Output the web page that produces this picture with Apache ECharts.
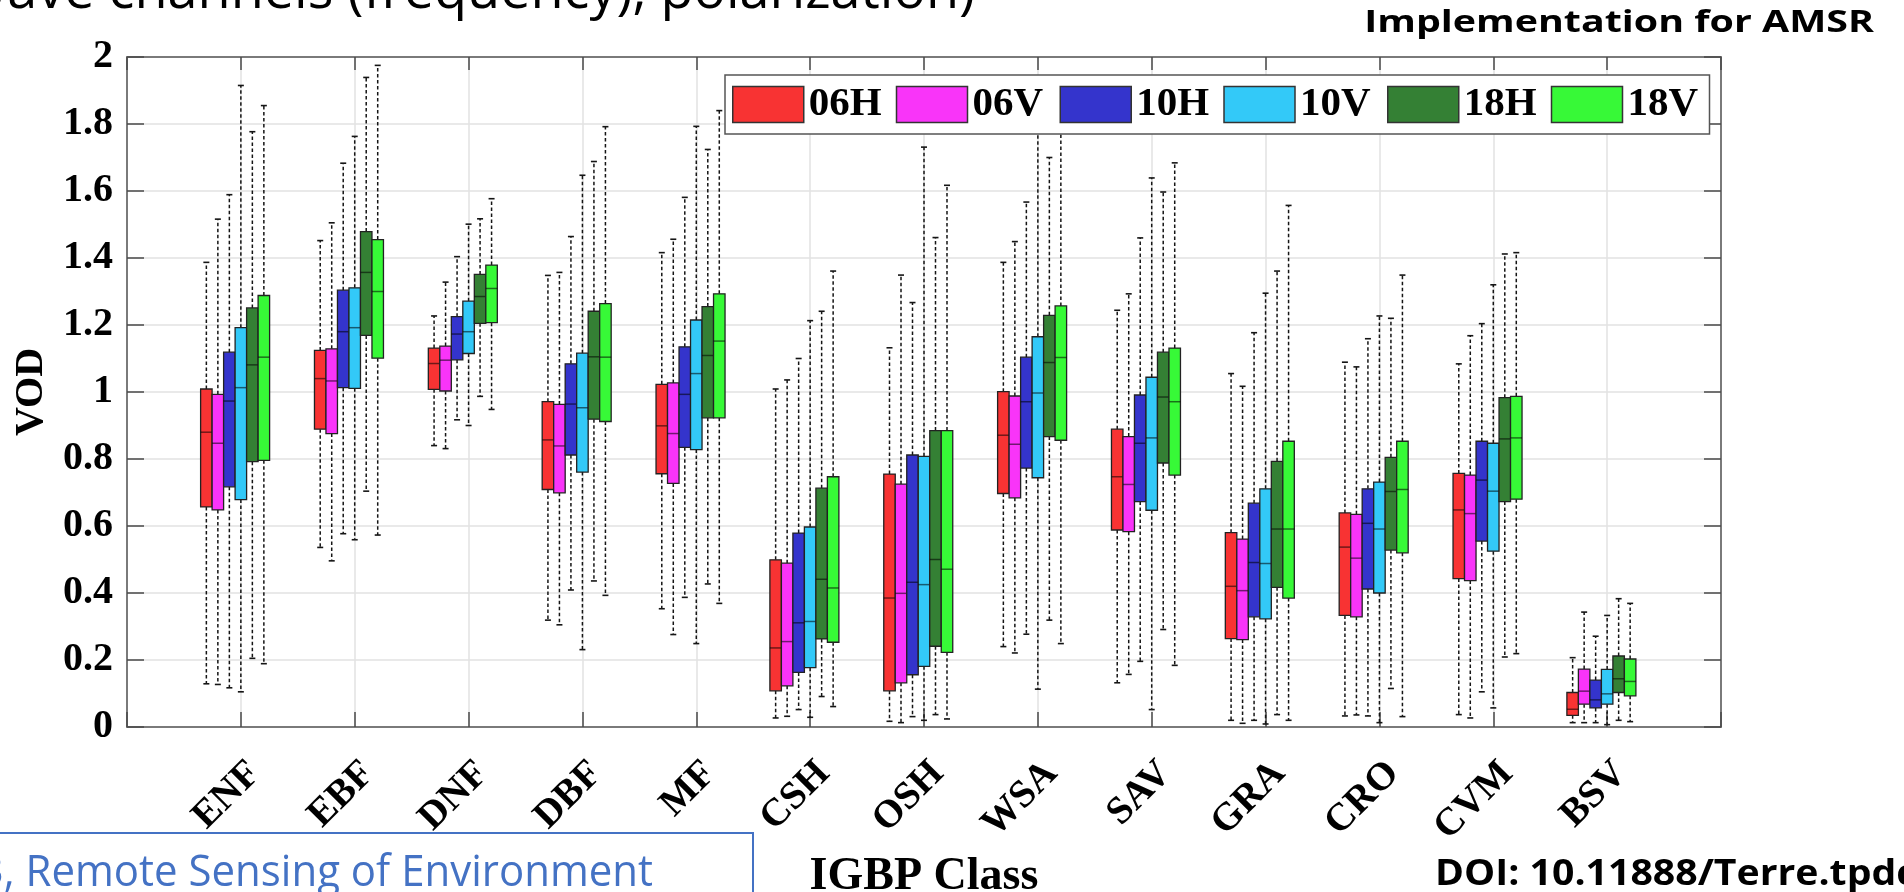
<!DOCTYPE html>
<html>
<head>
<meta charset="utf-8">
<script src="https://cdn.jsdelivr.net/npm/echarts@6/dist/echarts.min.js"></script>
<style>
html,body{margin:0;padding:0;background:#fff;}
#chart{width:1904px;height:892px;}
</style>
</head>
<body>
<div id="chart"></div>
<script>
// ---- data ----
const categories = ['ENF','EBF','DNF','DBF','MF','CSH','OSH','WSA','SAV','GRA','CRO','CVM','BSV'];
const channels = ['06H','06V','10H','10V','18H','18V'];
const channelColors = ['#f83333','#f934f9','#3434cc','#33c9f8','#348034','#37f937'];
// each row: [min, q1, median, q3, max]
const ch06H = [
 [0.129,0.657,0.880,1.009,1.387],[0.536,0.889,1.040,1.124,1.452],[0.840,1.008,1.085,1.131,1.227],
 [0.319,0.709,0.857,0.971,1.348],[0.353,0.756,0.899,1.023,1.416],[0.027,0.108,0.236,0.499,1.009],
 [0.017,0.108,0.385,0.755,1.132],[0.240,0.697,0.871,1.001,1.387],[0.132,0.588,0.747,0.889,1.244],
 [0.020,0.264,0.420,0.580,1.055],[0.033,0.333,0.537,0.639,1.089],[0.037,0.443,0.648,0.757,1.084],
 [0.013,0.035,0.053,0.103,0.207]];
const ch06V = [
 [0.127,0.648,0.847,0.993,1.516],[0.496,0.876,1.033,1.129,1.505],[0.831,1.003,1.095,1.137,1.328],
 [0.305,0.699,0.839,0.963,1.357],[0.276,0.727,0.876,1.027,1.456],[0.032,0.123,0.255,0.489,1.036],
 [0.013,0.132,0.399,0.725,1.349],[0.221,0.684,0.844,0.988,1.449],[0.157,0.583,0.724,0.867,1.293],
 [0.011,0.261,0.407,0.561,1.017],[0.036,0.329,0.504,0.635,1.075],[0.027,0.437,0.637,0.752,1.168],
 [0.013,0.068,0.107,0.173,0.343]];
const ch10H = [
 [0.117,0.717,0.973,1.119,1.589],[0.577,1.013,1.180,1.304,1.683],[0.917,1.096,1.173,1.225,1.404],
 [0.409,0.812,0.964,1.084,1.464],[0.387,0.835,0.993,1.135,1.581],[0.052,0.163,0.311,0.579,1.100],
 [0.031,0.156,0.432,0.812,1.267],[0.277,0.773,0.971,1.104,1.567],[0.196,0.673,0.847,0.991,1.460],
 [0.020,0.329,0.491,0.668,1.177],[0.033,0.412,0.608,0.711,1.159],[0.105,0.555,0.737,0.853,1.204],
 [0.013,0.057,0.081,0.140,0.271]];
const ch10V = [
 [0.105,0.679,1.013,1.192,1.915],[0.559,1.011,1.192,1.311,1.763],[0.900,1.115,1.180,1.271,1.501],
 [0.231,0.761,0.953,1.116,1.647],[0.249,0.828,1.055,1.215,1.793],[0.029,0.177,0.315,0.597,1.213],
 [0.020,0.181,0.425,0.808,1.731],[0.113,0.744,0.997,1.165,1.790],[0.052,0.647,0.863,1.044,1.639],
 [0.009,0.323,0.488,0.711,1.295],[0.013,0.400,0.591,0.731,1.227],[0.057,0.525,0.704,0.847,1.320],
 [0.007,0.068,0.099,0.172,0.333]];
const ch18H = [
 [0.205,0.792,1.081,1.251,1.777],[0.704,1.169,1.357,1.479,1.939],[0.987,1.205,1.285,1.351,1.517],
 [0.436,0.919,1.105,1.241,1.688],[0.427,0.923,1.109,1.255,1.724],[0.091,0.263,0.441,0.713,1.241],
 [0.037,0.241,0.500,0.885,1.461],[0.319,0.867,1.088,1.229,1.700],[0.291,0.788,0.985,1.119,1.597],
 [0.037,0.417,0.591,0.793,1.361],[0.115,0.528,0.703,0.805,1.220],[0.209,0.673,0.860,0.983,1.412],
 [0.020,0.103,0.144,0.212,0.383]];
const ch18V = [
 [0.189,0.796,1.104,1.288,1.855],[0.573,1.101,1.300,1.455,1.975],[0.948,1.207,1.309,1.379,1.577],
 [0.393,0.912,1.104,1.264,1.792],[0.369,0.923,1.152,1.293,1.840],[0.061,0.253,0.415,0.747,1.361],
 [0.024,0.223,0.471,0.885,1.617],[0.249,0.856,1.103,1.257,1.850],[0.184,0.752,0.971,1.131,1.684],
 [0.020,0.385,0.591,0.853,1.557],[0.031,0.520,0.709,0.853,1.349],[0.219,0.680,0.863,0.987,1.416],
 [0.016,0.093,0.136,0.203,0.369]];
const channelData = [ch06H, ch06V, ch10H, ch10V, ch18H, ch18V];

// ---- chart ----
const BOX_STEP = 0.101;   // box width in category units
const SERIF = "'Liberation Serif','Times New Roman',serif";

function renderItem(params, api) {
  const x = api.value(0);
  const pMin = api.coord([x, api.value(1)]);
  const pQ1 = api.coord([x, api.value(2)]);
  const pMed = api.coord([x, api.value(3)]);
  const pQ3 = api.coord([x, api.value(4)]);
  const pMax = api.coord([x, api.value(5)]);
  const w = api.size([BOX_STEP, 0])[0];
  const cx = pQ3[0];
  const color = api.visual('color');
  const dash = {stroke:'#151515', lineWidth:1.5, lineDash:[3.5,2.5]};
  const cap = 3;
  return {
    type:'group',
    children:[
      {type:'line', shape:{x1:cx,y1:pQ3[1],x2:cx,y2:pMax[1]}, style:dash},
      {type:'line', shape:{x1:cx,y1:pQ1[1],x2:cx,y2:pMin[1]}, style:dash},
      {type:'line', shape:{x1:cx-cap,y1:pMax[1],x2:cx+cap,y2:pMax[1]}, style:{stroke:'#151515',lineWidth:1.6}},
      {type:'line', shape:{x1:cx-cap,y1:pMin[1],x2:cx+cap,y2:pMin[1]}, style:{stroke:'#151515',lineWidth:1.6}},
      {type:'rect', shape:{x:cx-w/2,y:pQ3[1],width:w,height:pQ1[1]-pQ3[1]},
        style:{fill:color, stroke:'#222', lineWidth:1.3}},
      {type:'line', shape:{x1:cx-w/2,y1:pMed[1],x2:cx+w/2,y2:pMed[1]},
        style:{stroke:'rgba(0,0,0,0.55)', lineWidth:1.5}}
    ]
  };
}

const series = channels.map((name, k) => ({
  name: name,
  type: 'custom',
  renderItem: renderItem,
  xAxisIndex: 0,
  yAxisIndex: 0,
  itemStyle: {color: channelColors[k], borderColor:'#333', borderWidth:1.5},
  encode: {x:0, y:[1,2,3,4,5]},
  data: channelData[k].map((r, i) => [i + 1 + (k - 3) * BOX_STEP].concat(r)),
  z: 2
}));

const axisLineStyle = {color:'#7a7a7a', width:2};
const tickStyle = {color:'#4a4a4a', width:1.5};

const option = {
  backgroundColor:'#ffffff',
  animation:false,
  grid:{left:127, right:183, top:57, bottom:165, containLabel:false, outerBoundsMode:'none'},
  legend:{
    left:725, top:75, orient:'horizontal',
    padding:[9,8,9,7],
    itemWidth:71, itemHeight:36, itemGap:13,
    backgroundColor:'#ffffff', borderColor:'#555', borderWidth:1.5,
    icon:'rect',
    textStyle:{fontFamily:SERIF, fontWeight:'bold', fontSize:41, color:'#000', width:74, lineHeight:38},
    data: channels.map((c,k)=>({name:c, icon:'rect',
      itemStyle:{color:channelColors[k], borderColor:'#333', borderWidth:1.5}})),
    z:10
  },
  xAxis:[
    {type:'value', min:0, max:14, interval:1, position:'bottom',
     axisLine:{show:true, onZero:false, lineStyle:axisLineStyle},
     axisTick:{show:true, inside:true, length:15, lineStyle:tickStyle},
     splitLine:{show:true, lineStyle:{color:'#e2e2e2', width:1.5}},
     axisLabel:{show:true, rotate:45, margin:27, align:'right', verticalAlign:'top',
       fontFamily:SERIF, fontWeight:'bold', fontSize:39, color:'#000',
       formatter:(v)=> categories[Math.round(v)-1] || ''},
     name:'IGBP Class', nameLocation:'middle', nameGap:126,
     nameTextStyle:{fontFamily:SERIF, fontWeight:'bold', fontSize:46, color:'#000'}
    },
    {type:'value', min:0, max:14, interval:1, position:'top',
     axisLine:{show:true, onZero:false, lineStyle:axisLineStyle},
     axisTick:{show:true, inside:true, length:13, lineStyle:tickStyle},
     splitLine:{show:false}, axisLabel:{show:false}}
  ],
  yAxis:[
    {type:'value', min:0, max:2, interval:0.2, position:'left',
     axisLine:{show:true, onZero:false, lineStyle:axisLineStyle},
     axisTick:{show:true, inside:true, length:17, lineStyle:tickStyle},
     splitLine:{show:true, lineStyle:{color:'#e2e2e2', width:1.5}},
     axisLabel:{show:true, margin:14, fontFamily:SERIF, fontWeight:'bold', fontSize:40, color:'#000',
       formatter:(v)=> String(+v.toFixed(1))},
     name:'VOD', nameLocation:'middle', nameGap:74,
     nameTextStyle:{fontFamily:SERIF, fontWeight:'bold', fontSize:40, color:'#000'}
    },
    {type:'value', min:0, max:2, interval:0.2, position:'right',
     axisLine:{show:true, onZero:false, lineStyle:axisLineStyle},
     axisTick:{show:true, inside:true, length:17, lineStyle:tickStyle},
     splitLine:{show:false}, axisLabel:{show:false}}
  ],
  series: series,
  graphic:[
    {type:'text', x:975, y:-7, style:{text:'Microwave channels (frequency), polarization)',
      font:'normal 54px "Open Sans"', fill:'#000', align:'right', verticalAlign:'middle'}},
    {type:'text', x:1874, y:23, scaleX:1.27, style:{text:'Implementation for AMSR',
      font:'bold 31px "Open Sans"', fill:'#000', align:'right', verticalAlign:'middle'}},
    {type:'rect', shape:{x:-10, y:833, width:763, height:100},
      style:{fill:'none', stroke:'#4472C4', lineWidth:2}},
    {type:'text', x:653, y:874, scaleX:0.976, style:{text:'3, Remote Sensing of Environment',
      font:'normal 43px "Open Sans"', fill:'#4472C4', align:'right', verticalAlign:'middle'}},
    {type:'text', x:1435, y:875, scaleX:1.12, style:{text:'DOI: 10.11888/Terre.tpdc',
      font:'bold 35px "Open Sans"', fill:'#000', align:'left', verticalAlign:'middle'}}
  ]
};

const chart = echarts.init(document.getElementById('chart'), null, {renderer:'canvas'});
chart.setOption(option);
</script>
</body>
</html>
